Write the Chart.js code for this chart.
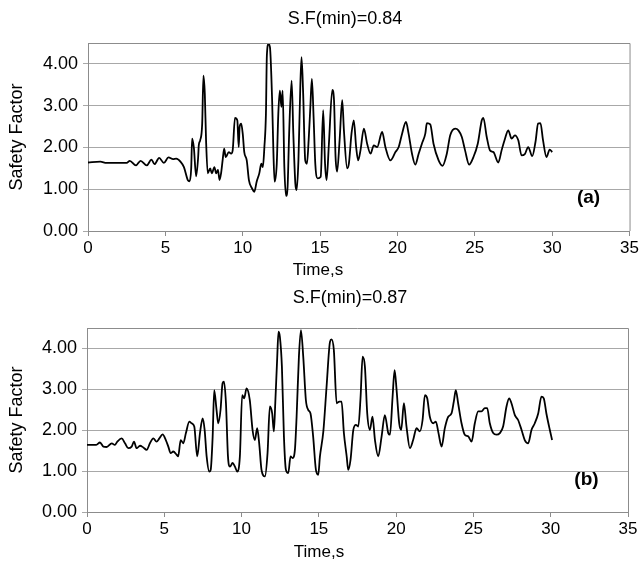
<!DOCTYPE html>
<html><head><meta charset="utf-8">
<script src="https://cdn.jsdelivr.net/npm/chart.js@4/dist/chart.umd.min.js"></script>
<style>
html,body{margin:0;padding:0;background:#fff;}
#wrap{position:relative;width:641px;height:563px;overflow:hidden;}
canvas{position:absolute;left:0;}
</style></head><body>
<div id="wrap">
<canvas id="c1" width="641" height="285" style="top:0;width:641px;height:285px"></canvas>
<canvas id="c2" width="641" height="278" style="top:285px;width:641px;height:278px"></canvas>
</div>
<script>
const titleA = "S.F(min)=0.84";
const titleB = "S.F(min)=0.87";
const panelA = "(a)";
const panelB = "(b)";
const xTitle = "Time,s";
const yTitle = "Safety Factor";
const xMin = 0, xMax = 35, xStep = 5;
const yMin = 0, yMax = 4.5, yStep = 0.5;

const timeA = [0,0.8,1.2,2.5,2.7,3.1,3.4,3.8,4.1,4.3,4.6,4.9,5.2,5.5,5.7,6.0,6.2,6.45,6.56,6.67,6.73,6.84,6.99,7.12,7.16,7.25,7.38,7.46,7.55,7.63,7.74,7.9,8.0,8.17,8.28,8.4,8.5,8.6,8.7,8.8,8.9,9.1,9.25,9.35,9.5,9.65,9.74,9.8,9.9,10.0,10.1,10.26,10.4,10.6,10.75,10.9,11.07,11.2,11.3,11.4,11.5,11.56,11.67,11.76,11.9,11.98,12.06,12.2,12.3,12.4,12.5,12.58,12.69,12.8,12.9,13.0,13.16,13.27,13.4,13.48,13.6,13.72,13.8,13.9,14.04,14.15,14.26,14.37,14.47,14.58,14.69,14.84,15.04,15.2,15.32,15.42,15.57,15.79,15.9,16.0,16.1,16.26,16.43,16.54,16.75,16.86,17.03,17.18,17.33,17.46,17.61,17.83,18.04,18.26,18.47,18.69,19.01,19.22,19.54,19.87,20.08,20.3,20.55,20.72,20.94,21.15,21.37,21.58,21.8,21.9,22.12,22.33,22.66,22.91,23.19,23.41,23.73,23.94,24.16,24.37,24.63,24.91,25.19,25.45,25.55,25.77,25.98,26.2,26.52,26.73,26.95,27.16,27.38,27.59,27.81,28.02,28.23,28.45,28.71,28.92,29.09,29.24,29.41,29.63,29.84,30.0];
const sfA = [1.64,1.66,1.63,1.63,1.68,1.57,1.68,1.57,1.71,1.6,1.75,1.63,1.76,1.72,1.73,1.65,1.53,1.22,1.19,1.5,2.21,2.0,1.31,1.77,2.05,2.17,2.57,3.72,3.28,2.17,1.38,1.5,1.38,1.53,1.38,1.46,1.22,1.38,1.69,1.97,1.77,1.89,1.85,1.93,2.71,2.65,2.01,2.49,2.57,2.33,1.89,1.69,1.22,1.02,0.94,1.18,1.38,1.61,1.53,2.01,2.81,4.2,4.48,4.4,3.13,1.93,1.18,1.61,2.81,3.36,2.97,3.36,1.53,0.84,1.06,2.33,3.6,2.33,1.14,0.98,1.69,3.44,4.16,3.36,1.69,1.61,2.17,2.97,3.64,2.73,1.61,1.26,1.3,2.89,1.61,1.22,2.09,3.38,3.13,1.77,1.42,2.17,3.13,2.41,1.5,1.61,2.33,2.65,2.01,1.69,1.93,2.45,2.09,1.85,2.05,2.01,2.37,2.01,1.69,1.89,2.01,2.33,2.61,2.33,1.85,1.59,1.85,2.09,2.33,2.58,2.55,2.09,1.69,1.56,1.85,2.29,2.45,2.41,2.25,1.93,1.59,1.77,2.09,2.65,2.71,2.25,1.93,1.89,1.64,1.93,2.21,2.41,2.21,2.29,2.17,1.81,1.84,2.01,1.79,2.13,2.57,2.58,2.17,1.77,1.95,1.89];

const timeB = [0,0.6,0.84,1.06,1.27,1.6,1.8,1.96,2.24,2.46,2.67,2.89,3.04,3.21,3.43,3.64,3.86,4.07,4.29,4.5,4.68,4.89,5.1,5.26,5.41,5.58,5.8,5.9,6.06,6.23,6.4,6.62,6.77,6.94,7.13,7.31,7.48,7.61,7.74,7.91,8.0,8.13,8.23,8.38,8.49,8.64,8.77,8.86,8.99,9.12,9.25,9.42,9.57,9.72,9.89,10.04,10.17,10.32,10.53,10.71,10.86,11.01,11.14,11.29,11.51,11.68,11.83,11.98,12.09,12.18,12.3,12.39,12.48,12.61,12.74,12.87,13.02,13.17,13.3,13.45,13.56,13.71,13.84,13.99,14.16,14.31,14.46,14.63,14.81,14.96,15.07,15.29,15.5,15.72,15.82,15.97,16.15,16.32,16.47,16.62,16.8,16.9,17.05,17.23,17.4,17.55,17.7,17.83,17.98,18.13,18.3,18.47,18.63,18.84,19.06,19.27,19.49,19.6,19.77,19.9,20.03,20.2,20.33,20.5,20.67,20.89,21.1,21.32,21.53,21.71,21.86,22.01,22.18,22.4,22.57,22.74,22.94,23.15,23.37,23.58,23.73,23.86,24.01,24.23,24.44,24.66,24.88,25.09,25.31,25.52,25.74,25.89,26.06,26.28,26.49,26.71,26.92,27.14,27.31,27.46,27.68,27.89,28.11,28.32,28.54,28.76,28.97,29.19,29.4,29.55,29.72,29.94,30.09];
const sfB = [1.64,1.64,1.7,1.6,1.59,1.68,1.64,1.72,1.8,1.68,1.56,1.6,1.72,1.56,1.62,1.58,1.52,1.68,1.8,1.72,1.8,1.9,1.76,1.6,1.44,1.48,1.4,1.36,1.76,1.68,1.93,2.21,2.17,2.09,1.36,1.93,2.29,2.01,1.36,0.99,1.03,1.85,2.98,2.5,2.17,2.5,3.15,3.19,2.66,1.36,1.11,1.2,1.11,0.99,1.36,2.86,2.78,3.02,2.74,2.01,1.76,2.05,1.68,1.03,0.87,1.44,2.58,2.41,1.97,2.66,3.72,4.41,4.28,3.55,1.85,1.03,0.95,1.36,1.32,1.52,2.33,3.8,4.45,3.8,2.74,2.5,2.41,1.85,1.03,0.91,1.36,1.97,3.07,4.16,4.22,3.96,2.66,2.7,2.7,1.93,1.36,1.03,1.28,2.01,2.13,2.09,2.82,3.8,3.55,2.41,2.01,2.33,1.76,1.36,1.85,2.37,1.93,1.89,2.82,3.47,2.98,2.17,2.01,2.66,2.09,1.56,1.76,2.05,1.97,2.25,2.86,2.78,2.33,2.17,2.21,1.93,1.6,2.05,2.33,2.41,2.7,2.98,2.66,2.17,1.89,1.85,1.72,2.17,2.46,2.46,2.54,2.54,2.17,1.93,1.89,1.93,2.09,2.58,2.78,2.66,2.37,2.25,2.01,1.76,1.68,2.01,2.17,2.41,2.82,2.78,2.41,2.01,1.76];

const FONT = "'Liberation Sans', Arial, sans-serif";

function makeChart(id, times, values, opts) {
  const pts = times.map((t, i) => ({x: t, y: values[i]}));
  const decor = {
    id: 'decor',
    afterDraw(chart) {
      const ctx = chart.ctx, a = chart.chartArea;
      ctx.save();
      ctx.strokeStyle = '#8c8c8c';
      ctx.lineWidth = 1;
      ctx.beginPath();
      ctx.moveTo(a.left, a.top + 0.5);
      ctx.lineTo(a.right + 0.5, a.top + 0.5);
      ctx.lineTo(a.right + 0.5, a.bottom);
      ctx.stroke();
      ctx.fillStyle = '#000';
      ctx.textBaseline = 'middle';
      ctx.textAlign = 'center';
      ctx.font = '18px ' + FONT;
      ctx.fillText(opts.title, opts.titleX, opts.titleY);
      ctx.save();
      ctx.translate(17, (a.top + a.bottom) / 2);
      ctx.rotate(-Math.PI / 2);
      ctx.fillText(yTitle, 0, 0);
      ctx.restore();
      ctx.font = '17px ' + FONT;
      ctx.fillText(xTitle, opts.xTitleX, opts.xTitleY);
      ctx.font = 'bold 19px ' + FONT;
      ctx.textAlign = 'right';
      const sx = chart.scales.x, sy = chart.scales.y;
      ctx.fillText(opts.panel, sx.getPixelForValue(opts.panelX), sy.getPixelForValue(opts.panelY));
      ctx.restore();
    }
  };
  return new Chart(document.getElementById(id), {
    type: 'line',
    data: { datasets: [{ data: pts, borderColor: '#000', borderWidth: 1.8, pointRadius: 0,
      cubicInterpolationMode: 'monotone', fill: false }] },
    options: {
      responsive: false, animation: false,
      layout: { padding: { top: opts.padTop, right: opts.padRight, left: 0, bottom: 0 } },
      plugins: { legend: { display: false }, tooltip: { enabled: false } },
      scales: {
        x: {
          type: 'linear', min: xMin, max: xMax,
          ticks: { stepSize: xStep, color: '#000', font: { size: 17, family: FONT }, padding: 2, maxRotation: 0 },
          grid: { drawOnChartArea: false, drawTicks: true, tickLength: 5, color: '#8c8c8c' },
          border: { color: '#8c8c8c' },
          afterFit(s) { s.height = opts.xAxisH; }
        },
        y: {
          min: yMin, max: yMax,
          ticks: { stepSize: yStep, color: '#000', font: { size: 18, family: FONT }, padding: 5,
            callback: v => (Math.abs(v - Math.round(v)) < 1e-6 ? v.toFixed(2) : '') },
          grid: { color: '#a8a8a8', tickLength: 5, lineWidth: 1 },
          border: { color: '#8c8c8c' },
          afterFit(s) { s.width = opts.yAxisW; }
        }
      }
    },
    plugins: [decor]
  });
}

makeChart('c1', timeA, sfA, {
  title: titleA, titleX: 345, titleY: 19, xTitleX: 318, xTitleY: 270,
  panel: panelA, panelX: 33.1, panelY: 0.8,
  padTop: 43, padRight: 9, xAxisH: 285 - 231, yAxisW: 88
});
makeChart('c2', timeB, sfB, {
  title: titleB, titleX: 350, titleY: 13, xTitleX: 319, xTitleY: 267,
  panel: panelB, panelX: 33.1, panelY: 0.8,
  padTop: 43, padRight: 13, xAxisH: 278 - 227, yAxisW: 87
});
</script>
</body></html>
